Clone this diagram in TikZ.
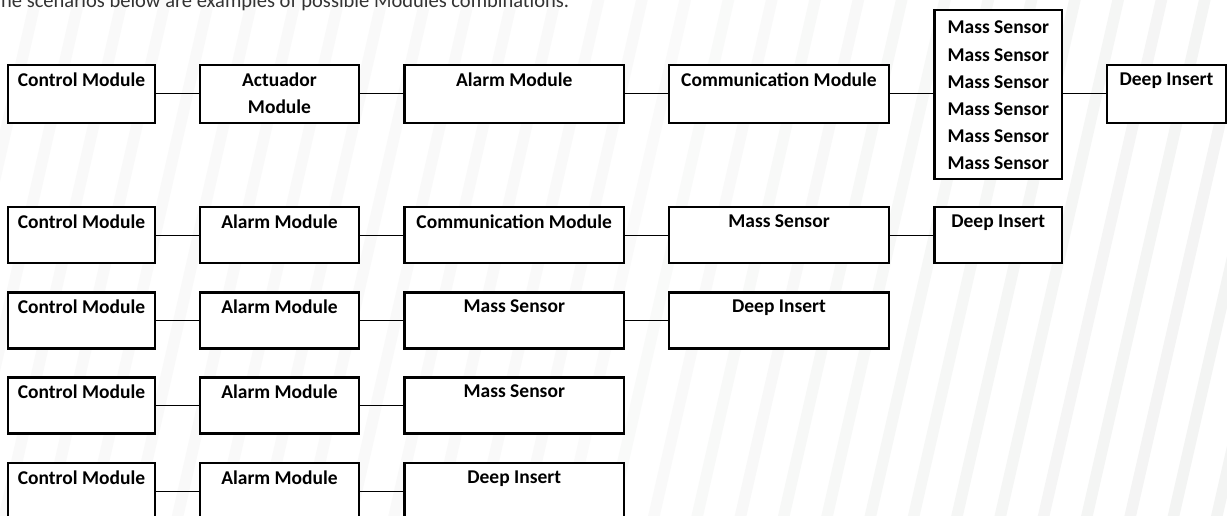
\documentclass[tikz,border=0pt]{standalone}
\usepackage{fontspec}
\setmainfont{Carlito}
\definecolor{stripecol}{HTML}{F2F3F2}
\definecolor{headgray}{HTML}{333333}
\begin{document}
\begin{tikzpicture}[x=1pt,y=-1pt,
  box/.style={draw=black, fill=white, line width=2.2pt, rectangle, inner sep=0pt},
  lbl/.style={font=\bfseries\fontsize{19.5}{27.2}\selectfont, align=center, inner sep=0pt, anchor=north, text=black},
  ttl/.style={label={[lbl,yshift=-8.5pt]north:#1}},
  link/.style={draw=black, line width=1pt},
  w1/.style={minimum width=147pt},
  w2/.style={minimum width=159pt},
  w3/.style={minimum width=219.5pt},
  w4/.style={minimum width=220pt},
  w5/.style={minimum width=127.5pt},
  w6/.style={minimum width=119pt},
  hA/.style={minimum height=58pt},
  hB/.style={minimum height=56pt}]
\useasboundingbox (0,0) rectangle (1227,516);
\clip (0,0) rectangle (1227,516);
\fill[white] (0,0) rectangle (1227,516);
% background stripes
\foreach \k in {-27,...,8} {
  \pgfmathsetmacro{\p}{\k<-8 ? 50 : 40+60*(\k+8)/16}
  \fill[stripecol!\p!white] ({907+43.3*\k},520) -- ({918.7+43.3*\k},520) -- ({1038.3+43.3*\k},-4) -- ({1026.6+43.3*\k},-4) -- cycle;
}
% heading
\node[anchor=base west, font=\fontsize{20.5}{24}\selectfont, text=headgray, inner sep=0pt] (head) at (1,8) {he scenarios below are examples of possible Modules combinations.};
% row 1
\node[box,w1,hA,ttl={Control Module}] (a1) at (81.5,94) {};
\node[box,w2,hA,label={[lbl,yshift=-8.5pt]north:Actuador\\Module}] (a2) at (279.5,94) {};
\node[box,w3,hA,ttl={Alarm Module}] (a3) at (514.25,94) {};
\node[box,w4,hA,ttl={Communication Module}] (a4) at (779,94) {};
\node[box,w5,minimum height=169pt,label={[lbl,yshift=-12pt]north:Mass Sensor\\Mass Sensor\\Mass Sensor\\Mass Sensor\\Mass Sensor\\Mass Sensor}] (a5) at (998.25,94.5) {};
\node[box,w6,hA,ttl={Deep Insert}] (a6) at (1166.5,94) {};
\draw[link] (a1.east) -- (a1.east -| a2.west);
\draw[link] (a2.east) -- (a2.east -| a3.west);
\draw[link] (a3.east) -- (a3.east -| a4.west);
\draw[link] (a4.east) -- (a4.east -| a5.west);
\draw[link] (a5.east |- a6.west) -- (a6.west);
% row 2
\node[box,w1,hB,ttl={Control Module}] (b1) at (81.5,235) {};
\node[box,w2,hB,ttl={Alarm Module}] (b2) at (279.5,235) {};
\node[box,w3,hB,ttl={Communication Module}] (b3) at (514.25,235) {};
\node[box,w4,hB,ttl={Mass Sensor}] (b4) at (779,235) {};
\node[box,w5,hB,ttl={Deep Insert}] (b5) at (998.25,235) {};
\draw[link] (b1) -- (b2);
\draw[link] (b2) -- (b3);
\draw[link] (b3) -- (b4);
\draw[link] (b4) -- (b5);
% row 3
\node[box,w1,hB,ttl={Control Module}] (c1) at (81.5,320.5) {};
\node[box,w2,hB,ttl={Alarm Module}] (c2) at (279.5,320.5) {};
\node[box,w3,hB,ttl={Mass Sensor}] (c3) at (514.25,320.5) {};
\node[box,w4,hB,ttl={Deep Insert}] (c4) at (779,320.5) {};
\draw[link] (c1) -- (c2);
\draw[link] (c2) -- (c3);
\draw[link] (c3) -- (c4);
% row 4
\node[box,w1,hB,ttl={Control Module}] (d1) at (81.5,405.5) {};
\node[box,w2,hB,ttl={Alarm Module}] (d2) at (279.5,405.5) {};
\node[box,w3,hB,ttl={Mass Sensor}] (d3) at (514.25,405.5) {};
\draw[link] (d1) -- (d2);
\draw[link] (d2) -- (d3);
% row 5
\node[box,w1,hB,ttl={Control Module}] (e1) at (81.5,491) {};
\node[box,w2,hB,ttl={Alarm Module}] (e2) at (279.5,491) {};
\node[box,w3,hB,ttl={Deep Insert}] (e3) at (514.25,491) {};
\draw[link] (e1) -- (e2);
\draw[link] (e2) -- (e3);
\end{tikzpicture}
\end{document}
